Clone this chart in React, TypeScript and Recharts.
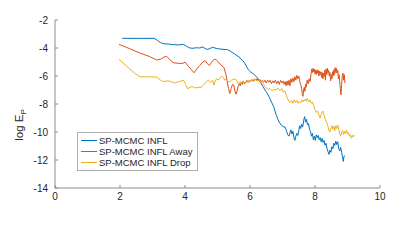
import React from "react";
import { LineChart, Line, XAxis, YAxis, Legend } from "recharts";

const inflX = [2.07, 2.5, 3.05, 3.15, 3.25, 3.35, 3.5, 3.65, 3.8, 3.95, 4.05, 4.15, 4.25, 4.35, 4.45, 4.55, 4.62, 4.7, 4.78, 4.85, 4.92, 5.0, 5.1, 5.2, 5.3, 5.38, 5.45, 5.52, 5.6, 5.66, 5.72, 5.78, 5.84, 5.9, 5.95, 6.0, 6.07, 6.13, 6.2, 6.27, 6.33, 6.4, 6.46, 6.52, 6.58, 6.63, 6.68, 6.73, 6.77, 6.81, 6.85, 6.9, 6.96, 7.02, 7.08, 7.12, 7.16, 7.2, 7.23, 7.26, 7.29, 7.32, 7.35, 7.38, 7.41, 7.44, 7.47, 7.5, 7.53, 7.56, 7.59, 7.62, 7.65, 7.68, 7.71, 7.74, 7.77, 7.8, 7.83, 7.86, 7.89, 7.92, 7.95, 7.98, 8.01, 8.04, 8.07, 8.1, 8.13, 8.16, 8.19, 8.22, 8.25, 8.28, 8.31, 8.34, 8.37, 8.4, 8.43, 8.46, 8.49, 8.52, 8.55, 8.58, 8.61, 8.64, 8.67, 8.7, 8.73, 8.76, 8.79, 8.82, 8.85, 8.87, 8.89, 8.92];
const inflY = [-3.31, -3.31, -3.31, -3.45, -3.62, -3.7, -3.72, -3.76, -3.78, -3.74, -3.88, -4.0, -4.02, -3.98, -4.0, -3.92, -4.05, -4.1, -4.02, -3.95, -4.0, -4.05, -4.08, -4.1, -4.12, -4.2, -4.32, -4.4, -4.55, -4.62, -4.8, -4.9, -5.1, -5.35, -5.55, -5.68, -5.8, -5.9, -6.05, -6.3, -6.5, -6.75, -7.0, -7.2, -7.45, -7.7, -7.95, -8.2, -8.5, -8.8, -9.05, -9.3, -9.5, -9.62, -9.65, -9.9, -10.2, -10.3, -10.05, -9.85, -10.15, -9.95, -10.4, -10.6, -10.3, -10.1, -10.25, -9.9, -9.55, -9.75, -9.45, -9.65, -9.2, -8.9, -9.3, -9.1, -9.5, -9.4, -9.8, -9.95, -10.3, -10.1, -10.55, -10.3, -10.6, -10.2, -10.4, -10.25, -10.55, -10.4, -10.7, -10.45, -10.75, -10.6, -10.95, -10.8, -11.2, -11.4, -11.6, -11.3, -11.45, -11.05, -11.2, -10.8, -10.95, -10.65, -10.9, -10.7, -11.2, -11.35, -11.1, -11.45, -11.8, -12.1, -11.75, -11.7];

const awayX = [1.97, 2.3, 2.6, 2.9, 3.13, 3.25, 3.35, 3.44, 3.54, 3.64, 3.8, 3.93, 4.0, 4.1, 4.2, 4.28, 4.36, 4.45, 4.55, 4.62, 4.68, 4.75, 4.82, 4.9, 4.96, 5.03, 5.1, 5.2, 5.26, 5.3, 5.34, 5.38, 5.42, 5.46, 5.5, 5.54, 5.57, 5.61, 5.64, 5.67, 5.7, 5.73, 5.76, 5.79, 5.82, 5.86, 5.9, 5.94, 5.98, 6.02, 6.06, 6.1, 6.14, 6.18, 6.22, 6.26, 6.3, 6.34, 6.38, 6.42, 6.46, 6.5, 6.54, 6.58, 6.62, 6.66, 6.7, 6.74, 6.78, 6.82, 6.86, 6.9, 6.94, 6.98, 7.02, 7.05, 7.08, 7.11, 7.14, 7.17, 7.2, 7.23, 7.26, 7.29, 7.32, 7.35, 7.38, 7.41, 7.44, 7.47, 7.5, 7.53, 7.56, 7.59, 7.61, 7.63, 7.65, 7.67, 7.69, 7.71, 7.73, 7.76, 7.79, 7.82, 7.85, 7.88, 7.9, 7.92, 7.94, 7.96, 7.98, 8.0, 8.02, 8.04, 8.06, 8.08, 8.1, 8.12, 8.14, 8.16, 8.18, 8.2, 8.22, 8.24, 8.26, 8.28, 8.3, 8.32, 8.34, 8.36, 8.38, 8.4, 8.42, 8.44, 8.46, 8.48, 8.5, 8.52, 8.54, 8.56, 8.58, 8.6, 8.62, 8.64, 8.66, 8.68, 8.7, 8.72, 8.74, 8.76, 8.78, 8.8, 8.82, 8.84, 8.86, 8.88, 8.9, 8.92];
const awayY = [-3.74, -4.05, -4.35, -4.6, -4.86, -4.8, -4.65, -4.6, -4.85, -5.05, -5.1, -5.1, -5.0, -5.3, -5.55, -5.77, -5.5, -5.25, -5.0, -4.9, -5.1, -5.25, -5.0, -4.8, -4.85, -5.0, -5.2, -5.4, -5.9, -6.4, -6.9, -7.25, -6.9, -6.6, -6.65, -7.1, -7.3, -7.0, -6.7, -6.55, -6.7, -6.45, -6.6, -6.35, -6.55, -6.5, -6.3, -6.45, -6.3, -6.4, -6.25, -6.35, -6.2, -6.3, -6.2, -6.35, -6.25, -6.4, -6.3, -6.45, -6.3, -6.5, -6.3, -6.45, -6.3, -6.55, -6.35, -6.5, -6.3, -6.55, -6.35, -6.6, -6.3, -6.5, -6.35, -6.6, -6.4, -6.7, -6.35, -6.65, -6.3, -6.7, -6.2, -6.45, -6.15, -6.4, -6.05, -6.3, -5.95, -6.2, -6.0, -6.4, -6.6, -6.9, -7.3, -7.45, -7.0, -6.8, -7.1, -6.6, -6.8, -6.3, -6.55, -6.2, -6.4, -5.8, -5.5, -5.75, -5.45, -5.7, -5.5, -5.85, -5.6, -5.9, -5.55, -5.8, -5.6, -6.0, -5.65, -5.9, -5.7, -6.1, -5.75, -6.2, -5.8, -6.05, -5.6, -6.3, -5.5, -5.9, -5.45, -5.8, -5.6, -6.0, -5.75, -6.35, -5.9, -6.2, -5.7, -6.0, -5.55, -5.9, -5.4, -5.75, -5.45, -5.8, -5.6, -6.2, -5.9, -6.4, -6.9, -7.35, -6.6, -6.0, -5.8, -6.3, -5.9, -6.5];

const dropX = [1.97, 2.2, 2.45, 2.62, 2.9, 3.13, 3.25, 3.33, 3.45, 3.55, 3.69, 3.8, 3.9, 3.95, 4.02, 4.08, 4.15, 4.22, 4.3, 4.4, 4.51, 4.58, 4.67, 4.72, 4.78, 4.85, 4.89, 4.93, 4.97, 5.02, 5.07, 5.13, 5.18, 5.22, 5.27, 5.32, 5.38, 5.43, 5.48, 5.54, 5.59, 5.64, 5.7, 5.75, 5.8, 5.86, 5.92, 5.98, 6.04, 6.1, 6.16, 6.22, 6.26, 6.32, 6.38, 6.41, 6.46, 6.5, 6.56, 6.62, 6.68, 6.74, 6.8, 6.86, 6.92, 6.98, 7.03, 7.08, 7.12, 7.16, 7.2, 7.24, 7.28, 7.32, 7.36, 7.4, 7.44, 7.48, 7.52, 7.56, 7.6, 7.64, 7.68, 7.72, 7.76, 7.8, 7.84, 7.88, 7.92, 7.96, 8.0, 8.04, 8.08, 8.12, 8.16, 8.2, 8.24, 8.28, 8.32, 8.36, 8.4, 8.43, 8.46, 8.49, 8.52, 8.55, 8.58, 8.61, 8.64, 8.67, 8.7, 8.73, 8.76, 8.79, 8.82, 8.85, 8.88, 8.91, 8.94, 8.97, 9.0, 9.03, 9.06, 9.09, 9.12, 9.15, 9.18, 9.2];
const dropY = [-4.8, -5.3, -5.8, -6.06, -6.06, -6.08, -6.3, -6.4, -6.35, -6.38, -6.5, -6.4, -6.35, -6.3, -6.6, -6.92, -6.8, -6.75, -6.85, -6.82, -6.8, -6.6, -6.4, -6.3, -6.45, -6.3, -6.65, -6.35, -6.2, -6.3, -6.15, -6.0, -6.1, -6.3, -6.2, -6.4, -6.4, -6.3, -6.25, -6.2, -6.35, -6.55, -6.4, -6.5, -6.4, -6.5, -6.35, -6.45, -6.3, -6.4, -6.25, -6.35, -6.3, -6.45, -6.5, -6.55, -6.75, -6.85, -6.95, -6.9, -7.05, -6.95, -7.0, -6.85, -7.05, -6.9, -7.15, -7.1, -7.4, -7.65, -7.8, -7.9, -7.75, -7.95, -7.7, -7.9, -7.75, -7.95, -7.8, -7.9, -7.7, -7.85, -7.65, -7.8, -7.6, -7.85, -7.7, -7.95, -7.85, -8.1, -8.4, -8.6, -8.5, -8.8, -9.0, -8.7, -8.5, -8.8, -9.1, -9.35, -9.6, -9.9, -10.0, -9.7, -9.55, -9.8, -9.6, -9.9, -9.55, -9.75, -9.5, -9.8, -10.1, -10.3, -10.0, -9.9, -10.2, -9.95, -10.1, -9.85, -10.15, -10.05, -10.3, -10.2, -10.45, -10.25, -10.35, -10.2];

const seriesNames = ["SP-MCMC INFL", "SP-MCMC INFL Away", "SP-MCMC INFL Drop"];
const seriesColors = ["#0072BD", "#D95319", "#EDB120"];
const xTicks = [0, 2, 4, 6, 8, 10];
const yTicks = [-14, -12, -10, -8, -6, -4, -2];

const toPoints = (xs: number[], ys: number[]) => xs.map((x, i) => ({ x, y: ys[i] }));
const series = [toPoints(inflX, inflY), toPoints(awayX, awayY), toPoints(dropX, dropY)];

const font = "'Liberation Sans', Arial, sans-serif";
const axisColor = "#8c8c8c";

const LegendBox = () => (
  <div
    style={{
      border: "1px solid #b0b0b0",
      background: "#fff",
      padding: "2px 5px 2px 3px",
      fontFamily: font,
      fontSize: 9.5,
      color: "#262626",
      lineHeight: "11px",
    }}
  >
    {seriesNames.map((n, i) => (
      <div key={n} style={{ display: "flex", alignItems: "center" }}>
        <span style={{ width: 16, height: 1, background: seriesColors[i], marginRight: 2, display: "inline-block" }} />
        <span>{n}</span>
      </div>
    ))}
  </div>
);

const YLabel = () => (
  <text x={15} y={117} transform="rotate(-90 15 117)" textAnchor="middle" fontFamily={font} fontSize={11.5} fill="#262626">
    log E<tspan fontSize={8} dy={3}>P</tspan>
  </text>
);

export default function App() {
  return (
    <LineChart width={400} height={241} margin={{ top: 12, right: 28, left: 0, bottom: 0 }}>
      <XAxis
        type="number"
        dataKey="x"
        domain={[0, 10]}
        ticks={xTicks}
        allowDataOverflow
        height={22}
        stroke={axisColor}
        tickSize={-3}
        tickMargin={8}
        tick={{ fill: "#262626", fontSize: 10, fontFamily: font }}
      />
      <YAxis
        type="number"
        dataKey="y"
        domain={[-14, -2]}
        ticks={yTicks}
        allowDataOverflow
        width={47}
        stroke={axisColor}
        tickSize={-3}
        tickMargin={10}
        tick={{ fill: "#262626", fontSize: 10, fontFamily: font }}
        label={{ content: () => <YLabel /> }}
      />
      <Legend
        layout="vertical"
        content={() => <LegendBox />}
        wrapperStyle={{ position: "absolute", left: 69, top: 124, width: "auto", bottom: "auto" }}
      />
      {series.map((pts, i) => (
        <Line
          key={seriesNames[i]}
          data={pts}
          dataKey="y"
          name={seriesNames[i]}
          type="linear"
          stroke={seriesColors[i]}
          strokeWidth={1}
          dot={false}
          isAnimationActive={false}
        />
      ))}
    </LineChart>
  );
}
